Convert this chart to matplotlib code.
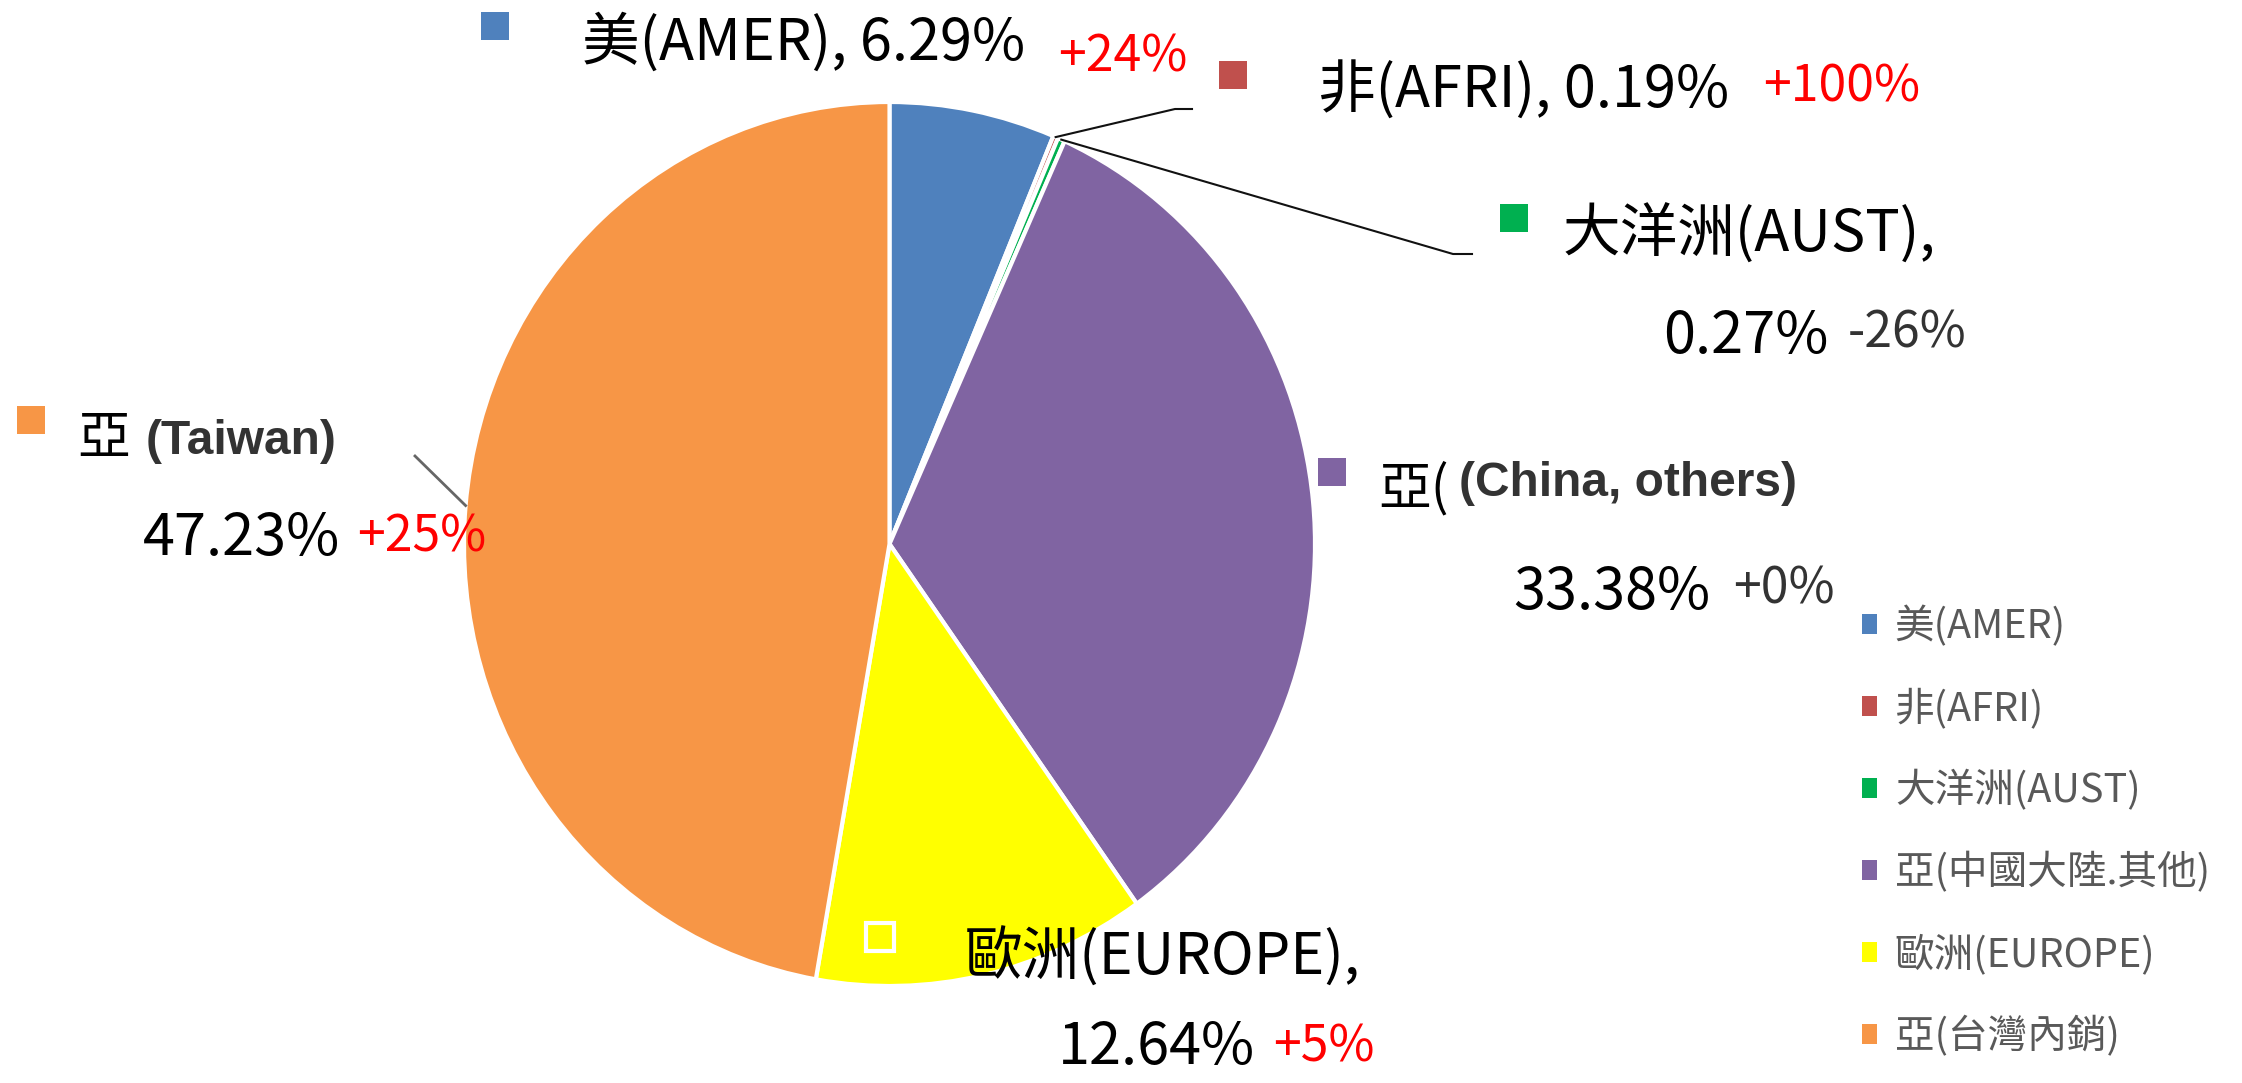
import matplotlib.pyplot as plt
from matplotlib.patches import Patch
import numpy as np

# === DATA ===
regions = ['美(AMER)', '非(AFRI)', '大洋洲(AUST)', '亞(中國大陸.其他)', '歐洲(EUROPE)', '亞(台灣內銷)']
shares = [6.29, 0.19, 0.27, 33.38, 12.64, 47.23]
changes = ['+24%', '+100%', '-26%', '+0%', '+5%', '+25%']
change_colors = ['#FF0000', '#FF0000', '#333333', '#333333', '#FF0000', '#FF0000']
slice_colors = ['#4F81BD', '#C0504D', '#00B050', '#8064A2', '#FFFF00', '#F79646']

W, H = 2242, 1083
plt.rcParams['font.family'] = ['Noto Sans CJK TC', 'DejaVu Sans']

fig = plt.figure(figsize=(W / 100, H / 100), dpi=100)

# pie axes (slightly taller than wide, like the original)
cx, cy, rx, ry = 889.5, 544, 425.5, 442
ax = fig.add_axes([(cx - rx) / W, 1 - (cy + ry) / H, 2 * rx / W, 2 * ry / H])
wedges, _ = ax.pie(shares, colors=slice_colors, startangle=90, counterclock=False,
                   wedgeprops=dict(edgecolor='white', linewidth=3))
ax.set_aspect('auto')
ax.set_xlim(-1, 1)
ax.set_ylim(-1, 1)

# overlay axes in pixel coords (y from top) for labels
ov = fig.add_axes([0, 0, 1, 1])
ov.set_xlim(0, W)
ov.set_ylim(H, 0)
ov.axis('off')


def edge_px(w):
    a = np.deg2rad((w.theta1 + w.theta2) / 2)
    disp = ax.transData.transform((np.cos(a), np.sin(a)))
    return ov.transData.inverted().transform(disp)


# ---- leader lines ----
p = edge_px(wedges[1])
ov.plot([p[0], 1175, 1192], [p[1], 109, 109], color='#111111', lw=1.5)
p = edge_px(wedges[2])
ov.plot([p[0], 1453, 1472], [p[1], 254, 254], color='#111111', lw=1.5)
p = edge_px(wedges[5])
ov.plot([p[0], 415], [p[1], 456], color='#666666', lw=2)

# ---- data labels ----
BIG, CHG, BOLD = 41.5, 36, 34.5


def square(x, y, i, edge=None):
    ov.plot(x, y, marker='s', markersize=20, color=slice_colors[i],
            markeredgecolor=edge or slice_colors[i], markeredgewidth=3 if edge else 0)


# AMER
square(495, 26, 0)
ov.text(582, 43, f'{regions[0]}, {shares[0]:.2f}%', fontsize=BIG, va='center')
ov.text(1058, 57, changes[0], fontsize=CHG, va='center', color=change_colors[0])
# AFRI
square(1233, 75, 1)
ov.text(1318, 91, f'{regions[1]}, {shares[1]:.2f}%', fontsize=BIG, va='center')
ov.text(1763, 88, changes[1], fontsize=CHG, va='center', color=change_colors[1])
# AUST
square(1514, 218, 2)
ov.text(1563, 235, f'{regions[2]},', fontsize=BIG, va='center')
ov.text(1663, 337, f'{shares[2]:.2f}%', fontsize=BIG, va='center')
ov.text(1848, 334, changes[2], fontsize=CHG, va='center', color=change_colors[2])
# China, others
square(1332, 472, 3)
ov.text(1378, 489, '亞(', fontsize=38, va='center')
ov.text(1459, 484, '(China, others)', fontsize=BOLD, va='center', family='Liberation Sans',
        fontweight='bold', color='#333333',
        bbox=dict(facecolor='white', edgecolor='none', pad=0))
ov.text(1513, 593, f'{shares[3]:.2f}%', fontsize=BIG, va='center')
ov.text(1733, 590, changes[3], fontsize=CHG, va='center', color=change_colors[3])
# Europe
square(880, 937, 4, edge='white')
ov.text(965, 958, f'{regions[4]},', fontsize=BIG, va='center')
ov.text(1058, 1048, f'{shares[4]:.2f}%', fontsize=BIG, va='center')
ov.text(1273, 1047, changes[4], fontsize=CHG, va='center', color=change_colors[4])
# Taiwan
square(31, 420, 5)
ov.text(77, 438, '亞', fontsize=38, va='center')
ov.text(146, 442, '(Taiwan)', fontsize=BOLD, va='center', family='Liberation Sans',
        fontweight='bold', color='#333333')
ov.text(143, 539, f'{shares[5]:.2f}%', fontsize=BIG, va='center')
ov.text(357, 538, changes[5], fontsize=CHG, va='center', color=change_colors[5])

# ---- legend ----
handles = [Patch(facecolor=c, edgecolor='none') for c in slice_colors]
fig.legend(handles, regions, loc='upper left', bbox_to_anchor=(1862 / W, 1 - 606 / H),
           frameon=False, fontsize=28.5, labelcolor='#595959',
           handlelength=0.38, handleheight=0.38, handletextpad=0.45,
           labelspacing=1.035, borderpad=0, borderaxespad=0)

plt.savefig('out.png', dpi=100)
plt.close(fig)
